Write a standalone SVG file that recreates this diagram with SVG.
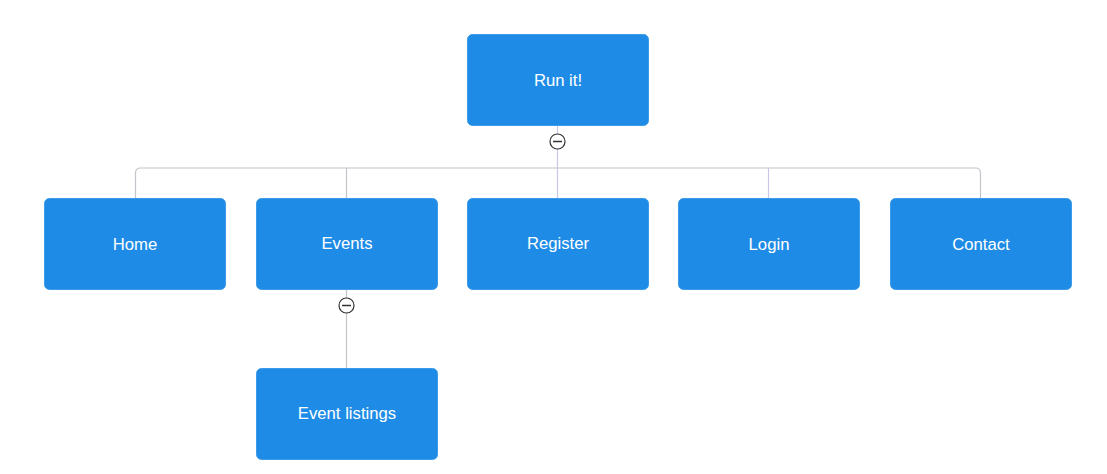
<svg xmlns="http://www.w3.org/2000/svg" width="1107" height="474" viewBox="0 0 1107 474">
<style>
.n{fill:#1e8ce6;stroke:#3d9bea;stroke-width:1}
.t{fill:#ffffff;font-family:"Liberation Sans",Arial,sans-serif;font-size:16.7px;text-anchor:middle;dominant-baseline:central}
.c{fill:none;stroke:#c4c4cc;stroke-width:1.2}
.p{stroke:#c8c8e8}
.b{fill:#ffffff;stroke:#333333;stroke-width:1.2}
.m{stroke:#333333;stroke-width:1.5}
</style>
<rect width="1107" height="474" fill="#ffffff"/>
<g id="connectors">
<path class="c p" d="M557.5 125 V168"/>
<path class="c" d="M135.5 198 V173 Q135.5 168 140.5 168 H975.5 Q980.5 168 980.5 173 V198"/>
<path class="c" d="M346.5 168 V198"/>
<path class="c p" d="M557.5 168 V198"/>
<path class="c p" d="M768.5 168 V198"/>
<path class="c" d="M346.5 289 V368"/>
<circle class="b" cx="557.5" cy="141.5" r="7.5"/>
<line class="m" x1="553" y1="141.5" x2="562" y2="141.5"/>
<circle class="b" cx="346.5" cy="305.5" r="7.5"/>
<line class="m" x1="342" y1="305.5" x2="351" y2="305.5"/>
</g>
<g id="run"><rect class="n" x="467.5" y="34.5" width="181" height="91" rx="5"/><text class="t" x="558" y="80">Run it!</text></g>
<g id="home"><rect class="n" x="44.5" y="198.5" width="181" height="91" rx="5"/><text class="t" x="135" y="244">Home</text></g>
<g id="events"><rect class="n" x="256.5" y="198.5" width="181" height="91" rx="5"/><text class="t" x="347" y="243">Events</text></g>
<g id="register"><rect class="n" x="467.5" y="198.5" width="181" height="91" rx="5"/><text class="t" x="558" y="243">Register</text></g>
<g id="login"><rect class="n" x="678.5" y="198.5" width="181" height="91" rx="5"/><text class="t" x="769" y="244">Login</text></g>
<g id="contact"><rect class="n" x="890.5" y="198.5" width="181" height="91" rx="5"/><text class="t" x="981" y="244">Contact</text></g>
<g id="listings"><rect class="n" x="256.5" y="368.5" width="181" height="91" rx="5"/><text class="t" x="347" y="413">Event listings</text></g>
</svg>
